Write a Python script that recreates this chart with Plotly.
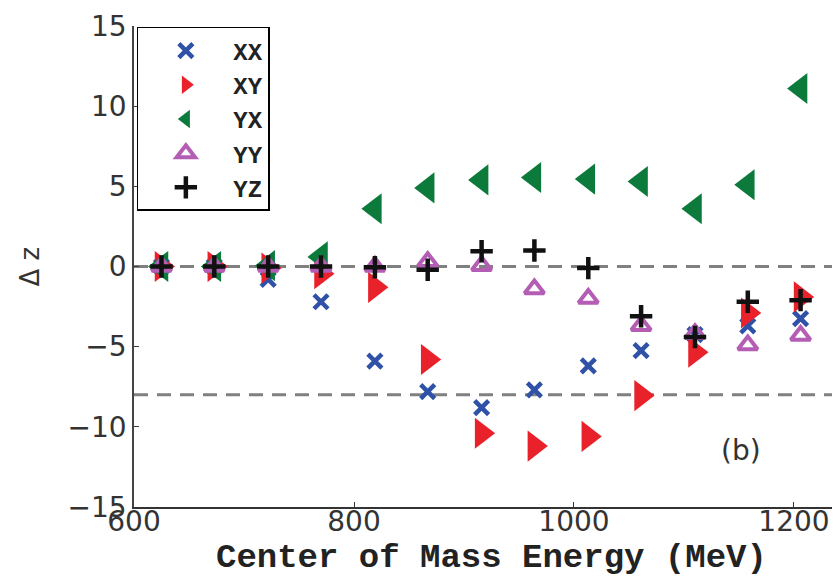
import plotly.graph_objects as go

energy = [625, 673, 722, 770, 819, 867, 916, 964, 1013, 1061, 1110, 1158, 1206]
xx = [0, 0, -0.8, -2.2, -5.9, -7.8, -8.8, -7.7, -6.2, -5.25, -4.25, -3.7, -3.25]
xy = [0, 0, -0.1, -0.45, -1.3, -5.8, -10.4, -11.2, -10.6, -8.05, -5.35, -2.9, -1.9]
yx = [0, 0, 0.05, 0.6, 3.6, 4.9, 5.4, 5.55, 5.45, 5.3, 3.6, 5.1, 11.1]
yy = [0, 0, 0, 0, 0, 0.3, 0.05, -1.4, -2.0, -3.7, -4.2, -4.9, -4.3]
yz = [0, 0, 0, 0, -0.05, -0.2, 0.95, 1.0, -0.1, -3.1, -4.4, -2.2, -2.1]
ref_lines = [0, -8]
x_ticks = [600, 800, 1000, 1200]
y_ticks = [-15, -10, -5, 0, 5, 10, 15]

fig = go.Figure()
fig.add_trace(go.Scatter(x=energy, y=xx, mode="markers", name="XX",
                         marker=dict(symbol="x-thin", size=14, color="#2f52a8",
                                     line=dict(width=4.5, color="#2f52a8"))))
fig.add_trace(go.Scatter(x=energy, y=xy, mode="markers", name="XY",
                         marker=dict(symbol="triangle-right", size=27, color="#e8212b",
                                     line=dict(width=0))))
fig.add_trace(go.Scatter(x=energy, y=yx, mode="markers", name="YX",
                         marker=dict(symbol="triangle-left", size=27, color="#0b7a3b",
                                     line=dict(width=0))))
fig.add_trace(go.Scatter(x=energy, y=yy, mode="markers", name="YY",
                         marker=dict(symbol="triangle-up-open", size=17, color="#b45db4",
                                     line=dict(width=4, color="#b45db4"))))
fig.add_trace(go.Scatter(x=energy, y=yz, mode="markers", name="YZ",
                         marker=dict(symbol="cross-thin", size=16, color="#111111",
                                     line=dict(width=4.5, color="#111111"))))

for v in ref_lines:
    fig.add_shape(type="line", xref="paper", x0=0, x1=1, yref="y", y0=v, y1=v,
                  line=dict(color="#808080", width=3, dash="14px,9px"), layer="below")

fig.add_annotation(x=1152, y=-11.5, xref="x", yref="y", text="(b)", showarrow=False,
                   font=dict(family="DejaVu Sans", size=28, color="#333333"))
fig.add_annotation(x=-0.1457, y=0, xref="paper", yref="y", xanchor="center", yanchor="middle",
                   text="Δ z", showarrow=False,
                   textangle=-90, font=dict(family="DejaVu Sans", size=26, color="#333333"))
fig.add_annotation(x=0.5, y=-0.105, xref="paper", yref="paper", xanchor="center", yanchor="middle",
                   text="Center of Mass Energy (MeV)", showarrow=False,
                   font=dict(family="Liberation Mono", size=34, color="#222222", weight="bold"))

fig.update_layout(
    width=840, height=577,
    margin=dict(l=126, r=0, t=18, b=78),
    paper_bgcolor="white", plot_bgcolor="white",
    showlegend=True,
    legend=dict(x=0.004, y=0.998, xanchor="left", yanchor="top",
                bordercolor="black", borderwidth=1.5, bgcolor="white",
                font=dict(family="Liberation Mono", size=24, color="#222222", weight="bold"),
                itemwidth=85, tracegroupgap=0),
    xaxis=dict(range=[600, 1249.1], tickvals=x_ticks, showgrid=False, zeroline=False,
               showline=True, linecolor="#333333", linewidth=1.5, ticks="inside", ticklen=5,
               tickcolor="#333333", ticklabelstandoff=-11,
               tickfont=dict(family="DejaVu Sans", size=28, color="#333333")),
    yaxis=dict(range=[-15, 15], tickvals=y_ticks, showgrid=False, zeroline=False,
               showline=True, linecolor="#444444", linewidth=1.5, ticks="inside", ticklen=5,
               tickcolor="#444444",
               tickfont=dict(family="DejaVu Sans", size=28, color="#333333")),
)

fig.write_html("out.html")
